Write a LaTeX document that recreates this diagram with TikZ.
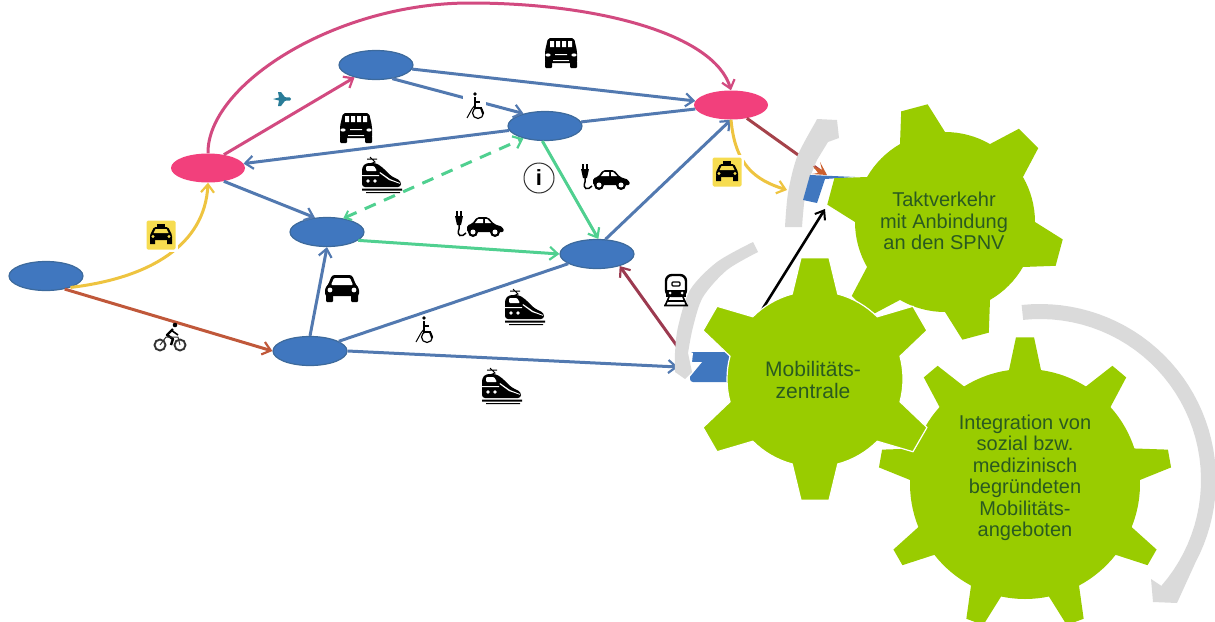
\documentclass[tikz,border=0pt]{standalone}
\usepackage{fontspec}
\setmainfont{Liberation Sans}
\usetikzlibrary{arrows.meta,shapes.geometric}
\definecolor{gearg}{HTML}{99CC00}
\definecolor{geart}{HTML}{2A5A20}
\definecolor{nblue}{HTML}{4077BF}
\definecolor{nedge}{HTML}{3D6A9C}
\definecolor{lblue}{HTML}{5279B0}
\definecolor{npink}{HTML}{F2407C}
\definecolor{lpink}{HTML}{D24A80}
\definecolor{lred}{HTML}{C0583A}
\definecolor{ldred}{HTML}{9C3A50}
\definecolor{lgreen}{HTML}{50D090}
\definecolor{lyel}{HTML}{EEC440}
\definecolor{greyarc}{HTML}{DADADA}
\definecolor{taxiy}{HTML}{F6DC50}
\newcommand{\gpt}[4]{({#1+#3*cos(#4)},{#2+#3*sin(#4)})}
\newcommand{\mygear}[8]{% style, cx, cy, body r, tip r, teeth, start, half base angle
  \def\stp{360/#6}
  \path[#1] \gpt{#2}{#3}{#4}{#7-#8}
   \foreach \k in {0,...,\numexpr#6-1\relax} {
     -- \gpt{#2}{#3}{#5}{#7+\k*\stp-#8*0.44}
     -- \gpt{#2}{#3}{#5}{#7+\k*\stp+#8*0.44}
     -- \gpt{#2}{#3}{#4}{#7+\k*\stp+#8}
     \foreach \j in {1,...,8} {
       -- \gpt{#2}{#3}{#4}{#7+\k*\stp+#8+\j/8*(\stp-2*#8)}
     }
   } -- cycle;
}
\tikzset{
  ell/.style={ellipse,minimum width=74,minimum height=29,inner sep=0,line width=1.2,draw=nedge,fill=nblue},
  pinkell/.style={ellipse,minimum width=74,minimum height=29,inner sep=0,fill=npink},
  conn/.style={line width=3,-{Straight Barb[length=8,width=13,line width=2.2]}},
  bline/.style={line width=3,draw=lblue},
  gtext/.style={align=center,text=geart,font=\fontsize{20}{21.5}\selectfont,inner sep=0},
  greyfill/.style={fill=greyarc},
  vanicon/.pic={
    \fill[black,rounded corners=2] (-13,-15)--(13,-15)--(16,-2)--(16,10)--(-16,10)--(-16,-2)--cycle;
    \fill[black,rounded corners=1] (-16,8) rectangle (-9,15) (9,8) rectangle (16,15);
    \fill[white] (-11,-12) rectangle (-7,-6) (-5,-12) rectangle (-1,-6) (1,-12) rectangle (5,-6) (7,-12) rectangle (11,-6);
    \fill[white] (-13,2) ellipse (2.6 and 1.6) (13,2) ellipse (2.6 and 1.6);
    \fill[white] (-6,1) rectangle (6,2) (-8,7) rectangle (8,8);
  },
  caricon/.pic={
    \fill[black,rounded corners=2.5] (-10,-13)--(10,-13)--(14,-3)--(17,0)--(17,8)--(-17,8)--(-17,0)--(-14,-3)--cycle;
    \fill[black,rounded corners=1] (-16,6) rectangle (-9,14) (9,6) rectangle (16,14);
    \fill[white,rounded corners=1] (-8,-10)--(8,-10)--(11,-3)--(-11,-3)--cycle;
    \fill[white] (-12,2) circle (2.4) (12,2) circle (2.4);
  },
  trainicon/.pic={
    \draw[black,line width=1] (-11,-18)--(-6,-13)--(-11,-11) (-14,-16)--(-4,-16);
    \fill[black,rounded corners=3] (-19,12)--(-19,-8)--(-15,-12)--(-5,-12)--(1,-8)--(10,1)--(20,6)--(20,12)--cycle;
    \fill[white,rounded corners=1] (-15,-9)--(-7,-9)--(-4,-4)--(-15,-4)--cycle;
    \fill[white] (-19,0) rectangle (-2,1) (-1,-3)--(9,4)--(19,8)--(19,8.8)--(8,5)--(-1.5,-2)--cycle;
    \fill[white] (-13,6) circle (1.8) (-6,6) circle (1.8);
    \fill[black] (-19,13.5) rectangle (21,15.5) (-15,17) rectangle (19,18.2);
  },
  trainfront/.pic={
    \draw[black,line width=2.4,rounded corners=6,fill=white] (-10,-15) rectangle (10,6);
    \fill[black] (-10,0) rectangle (10,7);
    \fill[white] (-6,3) circle (1.5) (6,3) circle (1.5);
    \draw[black,line width=1.2,rounded corners=1] (-4,-8) rectangle (4,-4);
    \draw[black,line width=1.6] (-7,7)--(-11,16) (7,7)--(11,16) (-9,11)--(9,11) (-12,15.5)--(12,15.5);
  },
  ecaricon/.pic={
    \fill[black,rounded corners=2] (-13,8)--(-13,1)--(-8,0)--(-3,-7)--(8,-7)--(14,0)--(23,3)--(24,8)--cycle;
    \fill[white] (-5,-1)--(-2,-5)--(3,-5)--(3,-1)--cycle (5,-1)--(5,-5)--(7,-5)--(11,-1)--cycle;
    \fill[black] (-7,8) circle (5) (15,8) circle (5);
    \fill[white] (-7,8) circle (2.5) (15,8) circle (2.5);
    \draw[black,line width=1.3] (-23,-13)--(-23,-8) (-19,-13)--(-19,-8);
    \fill[black] (-25,-8) -- (-17,-8) -- (-19,1) -- (-23,1) -- cycle;
    \draw[black,line width=1.5] (-21,1) -- (-21,5) .. controls (-24,12) and (-18,14) .. (-14,9);
  },
  wheelicon/.pic={
    \fill[black] (0,-12) circle (1.8);
    \draw[black,line width=1.9] (0,-9)--(0,2)--(6,2)--(8,8);
    \draw[black,line width=1.2] (3,7) circle (5.5);
    \draw[black,line width=1] (0,-1)--(-3,3)--(-8,12);
    \draw[black,line width=1.1] (0,-4)--(5,-4);
  },
  bikeicon/.pic={
    \draw[black!80,line width=1.9] (-10,7) circle (5.5) (10,7) circle (5.5);
    \fill[black] (5,-13) circle (2.3);
    \draw[black,line width=2.4,line join=round] (3,-9)--(-3,-3)--(3,1)--(1,7);
    \draw[black,line width=1.6] (1,-8)--(8,-3);
    \draw[black!80,line width=1] (-10,7)--(-4,-1)--(8,-1)--(10,7);
  },
  planeicon/.pic={
    \fill[lblue!50!teal] (-9,0)--(-3,-1.5)--(-4,-7)--(-1,-7)--(3,-1.8)--(8,-1.5)--(9,0)--(8,1.5)--(3,1.8)--(-1,7)--(-4,7)--(-3,1.5)--cycle;
  },
  taxiicon/.pic={
    \fill[white] (-17,-17) rectangle (17,17);
    \fill[taxiy,rounded corners=1.5] (-14.5,-14.5) rectangle (14.5,14.5);
    \fill[black] (-4,-11) rectangle (4,-8);
    \fill[black,rounded corners=1.5] (-7,-8)--(7,-8)--(10,-2)--(11,0)--(11,5)--(-11,5)--(-11,0)--(-10,-2)--cycle;
    \fill[black] (-11,4) rectangle (-6,9) (6,4) rectangle (11,9);
    \fill[taxiy] (-5.5,-6)--(5.5,-6)--(7.5,-2)--(-7.5,-2)--cycle;
    \fill[taxiy] (-8,1.5) circle (1.6) (8,1.5) circle (1.6);
  }
}
\begin{document}
\begin{tikzpicture}[x=1pt,y=-1pt]
\clip (0,0) rectangle (1215,621);
% ---- nodes
\node[ell] (n1) at (46,276) {};
\node[pinkell] (n2) at (208,168) {};
\node[ell] (n3) at (376,65) {};
\node[ell] (n4) at (545,126) {};
\node[pinkell] (n5) at (731,105) {};
\node[ell] (n6) at (327,232) {};
\node[ell] (n7) at (597,254) {};
\node[ell] (n8) at (310,351) {};
\node[rectangle,rounded corners=3,minimum width=44,minimum height=30,inner sep=0,fill=nblue] (n9) at (712,367) {};
\coordinate (n9w) at (678,367);
\coordinate (n9a) at (677,346);
\coordinate (n9b) at (750,329);
\coordinate (n10a) at (822,172);
\coordinate (n10b) at (787,190);
\coordinate (n10c) at (825,209);
% ---- connectors
\draw[conn,draw=lpink] (n2.north) .. controls (207,85) and (335,3) .. (470,3) .. controls (600,3) and (715,35) .. (n5.north);
\draw[conn,draw=lpink] (n2.40) -- (n3.-150);
\draw[conn,bline] (n3) -- (n5);
\draw[bline] (n4) -- (n5);
\draw[conn,bline] (n4) -- (n2);
\draw[conn,bline] (n3.-40) -- (n4.150);
\draw[conn,bline] (n2.-40) -- (n6.130);
\draw[conn,bline] (n8.north) -- (n6.south);
\draw[bline] (n8) -- (n7);
\draw[conn,bline] (n7.60) -- (n5.-90);
\draw[conn,bline] (n8.east) -- (n9w);
\draw[conn,draw=lgreen] (n6.-15) -- (n7.west);
\draw[conn,draw=lgreen] (n4.-100) -- (n7.85);
\draw[line width=3,draw=lgreen,dash pattern=on 12 off 9,{Straight Barb[length=6,width=10,line width=2]}-{Straight Barb[length=8,width=13,line width=2.2]}] (n6.40) -- (n4.-150);
\draw[conn,draw=lyel] (n1.-25) .. controls (150,278) and (205,245) .. (n2.south);
\draw[conn,draw=lyel] (n5.south) .. controls (735,165) and (755,180) .. (n10b);
\draw[conn,draw=lred] (n1.-35) -- (n8.west);
\draw[conn,draw=ldred] (n9a) -- (n7.-28);
\draw[line width=3,draw=ldred!75!lred] (n5.-40) -- (n10a);
\draw[line width=2.6,black,-{Straight Barb[length=8,width=12,line width=2]}] (n9b) -- (n10c);
% ---- grey rotation arrows
\fill[white] (680,350)--(693,353)--(692,362)--(702,362)--(688,379)--(680,380)--cycle;
\fill[greyfill] plot[smooth] coordinates {(785,227) (788,193) (797,157) (815,123)}
  -- (817,119) -- (837,120) -- (839,138) -- (828,142)
  -- plot[smooth] coordinates {(817,160) (806,190) (802,227)} -- cycle;
\fill[greyfill] plot[smooth] coordinates {(753,242) (717,262) (690,290) (678,327) (675,353) (675,372)}
  -- (685,379) -- (692,372)
  -- plot[smooth] coordinates {(688,353) (693,327) (703,297) (727,270) (758,252)} -- cycle;
\fill[greyfill] plot[domain=-96:28,samples=40] ({1040+176*cos(\x)},{480+176*sin(\x)})
  -- (1177,603) -- (1153,602) -- (1151,579) -- (1163,587)
  -- plot[domain=41:-96,samples=40] ({1040+161*cos(\x)},{480+161*sin(\x)}) -- cycle;
% n10 shape and arrowhead on top
\fill[nblue] (810,175)--(855,177)--(825,179)--(817,203)--(803,200)--cycle;
\fill[lred!80!orange] (813,166)--(822,170)--(820,162)--(827,175)--(812,174)--(818,173)--cycle;
% ---- gears
\mygear{fill=gearg}{945}{222}{90}{119}{6}{-105}{15}
\mygear{fill=gearg}{1025}{484}{115}{147}{9}{-90}{8}
\mygear{fill=gearg,draw=white,line width=1.2}{815}{379}{88}{122}{6}{-90}{15}
\node[gtext] (g1) at (944,221) {Taktverkehr\\mit Anbindung\\an den SPNV};
\node[gtext,font=\fontsize{21}{21.5}\selectfont] (g2) at (813,380) {Mobilitäts-\\zentrale};
\node[gtext] (g3) at (1025,478) {Integration von\\sozial bzw.\\medizinisch\\begründeten\\Mobilitäts-\\angeboten};
% ---- icons
\pic at (561,53) {vanicon};
\pic at (356,128) {vanicon};
\pic at (381,175) {trainicon};
\pic at (524,307) {trainicon};
\pic at (501,386) {trainicon};
\pic at (606,177) {ecaricon};
\pic at (480,224) {ecaricon};
\pic at (342,288) {caricon};
\pic at (170,338) {bikeicon};
\pic at (282,99) {planeicon};
\pic at (161,235) {taxiicon};
\pic at (727,172) {taxiicon};
\pic at (676,290) {trainfront};
\fill[white] (463,91) rectangle (486,122);
\pic at (475,106) {wheelicon};
\pic at (424,330) {wheelicon};
\node[circle,draw=black!80,line width=1,minimum size=30,inner sep=0,font=\bfseries\fontsize{22}{22}\selectfont] (info) at (539,178) {i};
\end{tikzpicture}
\end{document}
